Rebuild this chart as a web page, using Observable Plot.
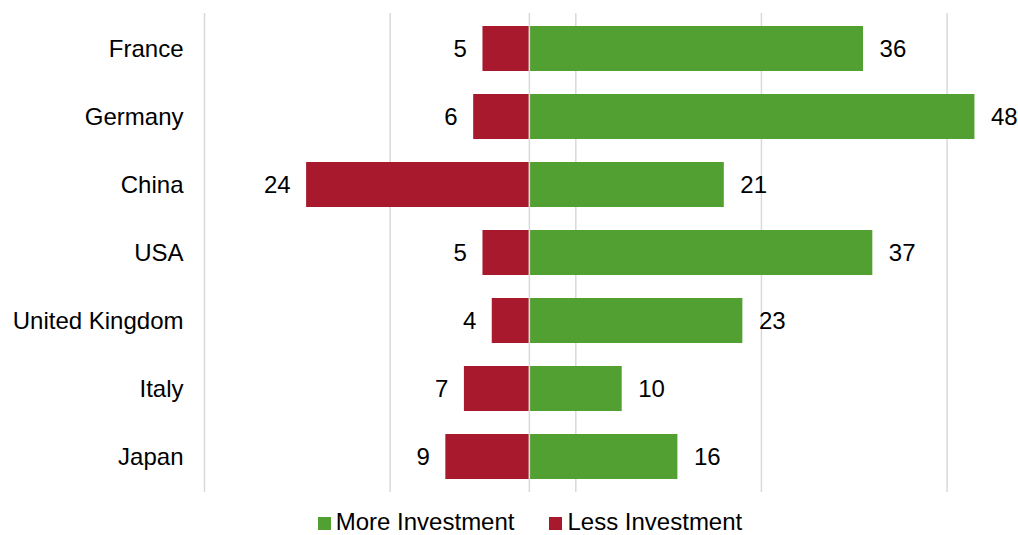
<!DOCTYPE html>
<html>
<head>
<meta charset="utf-8">
<script src="https://cdn.jsdelivr.net/npm/d3@7"></script>
<script src="https://cdn.jsdelivr.net/npm/@observablehq/plot@0.6"></script>
<style>
  body { margin: 0; background: #fff; font-family: "Liberation Sans", Arial, sans-serif; overflow: hidden; }
  #legend { display: flex; justify-content: center; gap: 35px; font-size: 24px; color: #000; height: 24px; line-height: 24px; align-items: center; margin-left: 42px; margin-top: 6px; white-space: nowrap; }
  #legend span.sw { display: inline-block; width: 13px; height: 13px; margin-right: 5px; }
</style>
</head>
<body>
<div id="chart"></div>
<div id="legend"></div>
<script>
const countries = ["France", "Germany", "China", "USA", "United Kingdom", "Italy", "Japan"];
const moreInvestment = [36, 48, 21, 37, 23, 10, 16];
const lessInvestment = [5, 6, 24, 5, 4, 7, 9];
const gridTicks = [-35, -15, 5, 25, 45];
const seriesNames = ["More Investment", "Less Investment"];
const colors = ["#52a032", "#a8192e"];

const rows = [];
countries.forEach((c, i) => {
  rows.push({country: c, series: seriesNames[0], value: moreInvestment[i]});
  rows.push({country: c, series: seriesNames[1], value: -lessInvestment[i]});
});
const more = rows.filter(d => d.series === seriesNames[0]);
const less = rows.filter(d => d.series === seriesNames[1]);

const chart = Plot.plot({
  width: 1018,
  height: 504,
  marginLeft: 204,
  marginRight: 25,
  marginTop: 13,
  marginBottom: 12,
  style: {fontFamily: "Liberation Sans, Arial, sans-serif", fontSize: "24px", color: "#000"},
  x: {domain: [-35, 50], axis: null},
  y: {domain: countries, paddingInner: 0.34, paddingOuter: 0.17, axis: null},
  color: {domain: seriesNames, range: colors},
  marks: [
    Plot.ruleX(gridTicks, {stroke: "#d9d9d9", strokeWidth: 1.5}),
    Plot.barX(rows, {x: "value", y: "country", fill: "series"}),
    Plot.ruleX([0], {stroke: "#d9d9d9", strokeWidth: 1.5}),
    Plot.text(more, {x: "value", y: "country", text: d => String(d.value), textAnchor: "start", dx: 16, fontSize: 24, fill: "#000"}),
    Plot.text(less, {x: "value", y: "country", text: d => String(-d.value), textAnchor: "end", dx: -16, fontSize: 24, fill: "#000"}),
    Plot.text(countries, {x: -35, y: d => d, text: d => d, textAnchor: "end", dx: -21, fontSize: 24, fill: "#000"})
  ]
});
document.getElementById("chart").appendChild(chart);

const legend = document.getElementById("legend");
seriesNames.forEach((n, i) => {
  const item = document.createElement("div");
  item.innerHTML = `<span class="sw" style="background:${colors[i]}"></span>${n}`;
  legend.appendChild(item);
});
</script>
</body>
</html>
